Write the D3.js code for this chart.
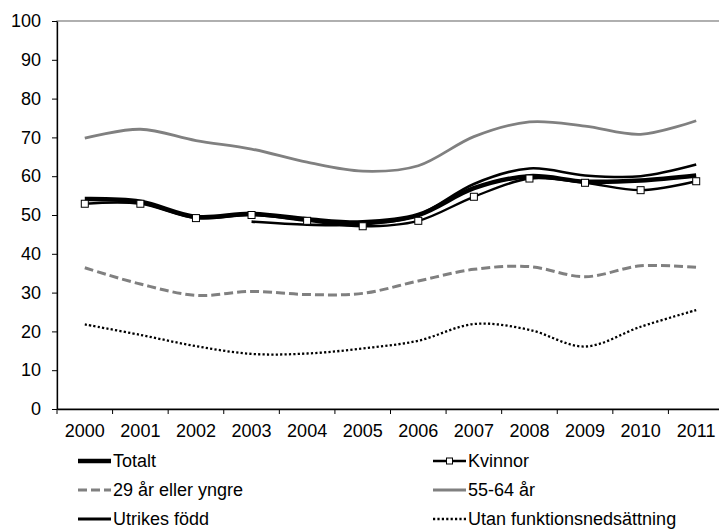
<!DOCTYPE html>
<html>
<head>
<meta charset="utf-8">
<script src="https://cdn.jsdelivr.net/npm/d3@7"></script>
<style>
    body { margin: 0; background: #fff; }
    svg { font-family: "Liberation Sans", Arial, sans-serif; }
</style>
</head>
<body>
<svg id="vis" width="719" height="530"></svg>
<script>
const years = ["2000", "2001", "2002", "2003", "2004", "2005", "2006", "2007", "2008", "2009", "2010", "2011"];
const yTicks = [0, 10, 20, 30, 40, 50, 60, 70, 80, 90, 100];

// values (percent)
const totalt = [54.1, 53.4, 49.5, 50.3, 48.9, 48.1, 50.0, 56.9, 60.0, 58.6, 58.9, 60.2];
const kvinnor = [52.9, 52.9, 49.2, 50.0, 48.5, 47.1, 48.5, 54.7, 59.4, 58.3, 56.4, 58.7];
const ung = [36.4, 32.2, 29.3, 30.3, 29.5, 29.8, 33.0, 36.0, 36.7, 34.1, 36.9, 36.5];
const aldre = [69.8, 72.1, 69.2, 67.0, 63.6, 61.3, 62.7, 70.2, 74.0, 72.9, 70.8, 74.3];
const utrikes = [null, null, null, 48.3, 47.5, 47.6, 50.0, 58.0, 62.0, 60.2, 60.0, 63.0];
const utan = [21.8, 19.1, 16.2, 14.2, 14.3, 15.6, 17.6, 21.9, 20.4, 16.1, 21.2, 25.5];

const svg = d3.select("#vis");
const xscale = d3.scaleBand().domain(years).range([57, 724]);
const yscale = d3.scaleLinear().domain([0, 100]).range([409, 21]);

const series = [
    {name: "29 år eller yngre", values: ung, color: "#808080", width: 3, dash: "9,4"},
    {name: "Utan funktionsnedsättning", values: utan, color: "#000", width: 2.3, dash: "2.2,2.2"},
    {name: "55-64 år", values: aldre, color: "#808080", width: 2.8, dash: null},
    {name: "Utrikes född", values: utrikes, color: "#000", width: 2.6, dash: null},
    {name: "Totalt", values: totalt, color: "#000", width: 4.5, dash: null},
    {name: "Kvinnor", values: kvinnor, color: "#000", width: 2.4, dash: null, marker: true},
];

function main() {
    drawFrame();
    drawLines();
    drawLegend();
}

function drawFrame() {
    // plot area border (only top shows, right side is cropped)
    svg.append("rect")
        .attr("x", 57).attr("y", 21)
        .attr("width", 667).attr("height", 388)
        .attr("fill", "none")
        .attr("stroke", "#868686")
        .attr("stroke-width", 1.3);

    const yAxis = svg.append("g")
        .attr("transform", "translate(57,0)")
        .call(d3.axisLeft(yscale).tickValues(yTicks).tickSize(5).tickSizeOuter(0).tickPadding(11));
    yAxis.selectAll("text").style("font-size", "18px").attr("fill", "#000");
    yAxis.selectAll("line").attr("stroke", "#000");
    yAxis.select(".domain").attr("stroke", "#000").attr("stroke-width", 1.3);

    const xAxis = svg.append("g")
        .attr("transform", "translate(0,409)")
        .call(d3.axisBottom(xscale).tickSize(0).tickSizeOuter(0).tickPadding(15));
    xAxis.selectAll("text").style("font-size", "18px").attr("fill", "#000");
    xAxis.select(".domain").attr("stroke", "#000").attr("stroke-width", 1.3);

    // ticks between categories
    xAxis.selectAll(".cat-tick").data(years).join("line")
        .attr("class", "cat-tick")
        .attr("x1", d => xscale(d)).attr("x2", d => xscale(d))
        .attr("y1", 0).attr("y2", 5)
        .attr("stroke", "#000");
}

function drawLines() {
    const line = d3.line()
        .defined(d => d.v !== null)
        .x(d => xscale(d.year) + xscale.bandwidth() / 2)
        .y(d => yscale(d.v))
        .curve(d3.curveCardinal.tension(0));

    series.forEach(s => {
        const pts = years.map((y, i) => ({year: y, v: s.values[i]}));
        svg.append("path")
            .attr("d", line(pts.filter(p => p.v !== null)))
            .attr("fill", "none")
            .attr("stroke", s.color)
            .attr("stroke-width", s.width)
            .attr("stroke-dasharray", s.dash);

        if (s.marker) {
            svg.selectAll(".mark").data(pts).join("rect")
                .attr("class", "mark")
                .attr("x", d => xscale(d.year) + xscale.bandwidth() / 2 - 3.5)
                .attr("y", d => yscale(d.v) - 3.5)
                .attr("width", 7).attr("height", 7)
                .attr("fill", "#fff")
                .attr("stroke", "#000")
                .attr("stroke-width", 1);
        }
    });
}

function drawLegend() {
    const order = ["Totalt", "Kvinnor", "29 år eller yngre", "55-64 år", "Utrikes född", "Utan funktionsnedsättning"];
    const items = order.map(n => series.find(s => s.name === n));
    const g = svg.append("g");

    items.forEach((s, i) => {
        const col = i % 2;
        const row = Math.floor(i / 2);
        const x0 = col === 0 ? 78 : 433;
        const yy = 461 + row * 29;
        g.append("line")
            .attr("x1", x0).attr("x2", x0 + 33)
            .attr("y1", yy).attr("y2", yy)
            .attr("stroke", s.color)
            .attr("stroke-width", s.name === "Utrikes född" ? 3 : s.width)
            .attr("stroke-dasharray", s.dash);
        if (s.marker) {
            g.append("rect")
                .attr("x", x0 + 16.5 - 3).attr("y", yy - 3)
                .attr("width", 6).attr("height", 6)
                .attr("fill", "#fff").attr("stroke", "#000").attr("stroke-width", 1);
        }
        g.append("text")
            .attr("x", x0 + 35)
            .attr("y", yy)
            .attr("dy", "0.35em")
            .style("font-size", "18px")
            .text(s.name);
    });
}

main();
</script>
</body>
</html>
